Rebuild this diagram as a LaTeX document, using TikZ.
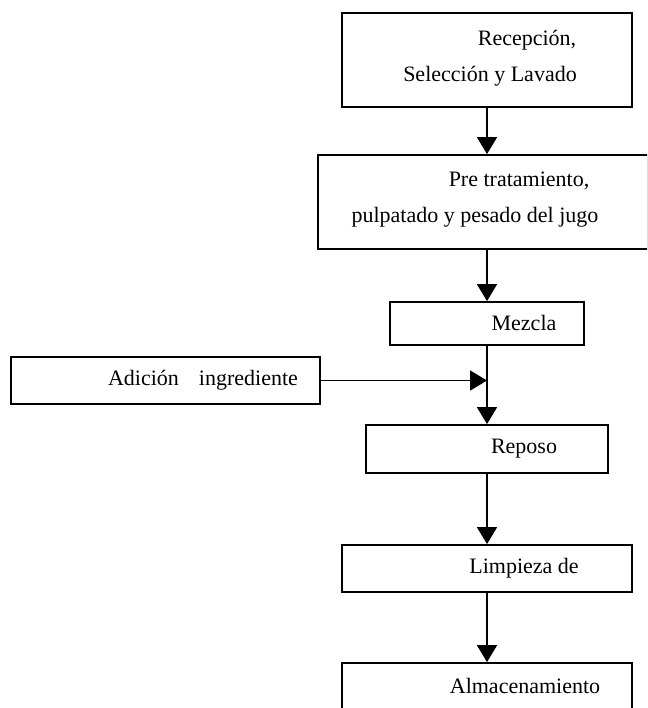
\documentclass[tikz,border=0pt]{standalone}
\usepackage{fontspec}
\setmainfont{Liberation Serif}
\usetikzlibrary{arrows.meta}

\begin{document}
\begin{tikzpicture}[x=1pt, y=-1pt,
  paso/.style={draw, line width=1.8pt, rectangle, inner sep=0pt},
  rotulo/.style={font=\fontsize{22}{36}\selectfont, align=center, inner sep=0pt},
  flecha/.style={line width=1.8pt, -{Triangle[length=17pt, width=20pt]}}]

  \useasboundingbox (0,0) rectangle (647,708);
  \clip (0,0) rectangle (647,708);

  % Boxes of the process
  \node[paso, minimum width=290pt, minimum height=94pt] (recep) at (487,60) {};
  \node[paso, minimum width=330pt, minimum height=94pt] (pretrat) at (483,202) {};
  \node[paso, minimum width=194pt, minimum height=43pt] (mezcla) at (487,323.5) {};
  \node[paso, minimum width=309pt, minimum height=47pt] (adicion) at (165.5,380.5) {};
  \node[paso, minimum width=242pt, minimum height=48pt] (reposo) at (487,449) {};
  \node[paso, minimum width=290pt, minimum height=47pt] (limpieza) at (487,568.5) {};
  \node[paso, minimum width=290pt, minimum height=47pt] (almacen) at (487,686.5) {};

  % Texts
  \node[rotulo] (trecep) at (490,58) {\hspace*{74pt}Recepción,\\Selección y Lavado};
  \node[rotulo] (tpretrat) at (475,200) {\hspace*{88pt}Pre tratamiento,\\pulpatado y pesado del jugo};
  \node[rotulo] (tmezcla) at (524,323) {Mezcla};
  \node[rotulo] (tadicion) at (203,380) {Adición\hspace{20pt}ingrediente};
  \node[rotulo] (treposo) at (524,449) {Reposo};
  \node[rotulo] (tlimpieza) at (524,568) {Limpieza de};
  \node[rotulo] (talmacen) at (525,686) {Almacenamiento};

  % Arrows
  \draw[flecha] (recep.south) -- (recep.south |- pretrat.north);
  \draw[flecha] (recep.south |- pretrat.south) -- (mezcla.north);
  \draw[flecha] (mezcla.south) -- (reposo.north);
  \draw[flecha] (adicion.east) -- (adicion.east -| mezcla.south);
  \draw[flecha] (reposo.south) -- (limpieza.north);
  \draw[flecha] (limpieza.south) -- (almacen.north);

\end{tikzpicture}
\end{document}
